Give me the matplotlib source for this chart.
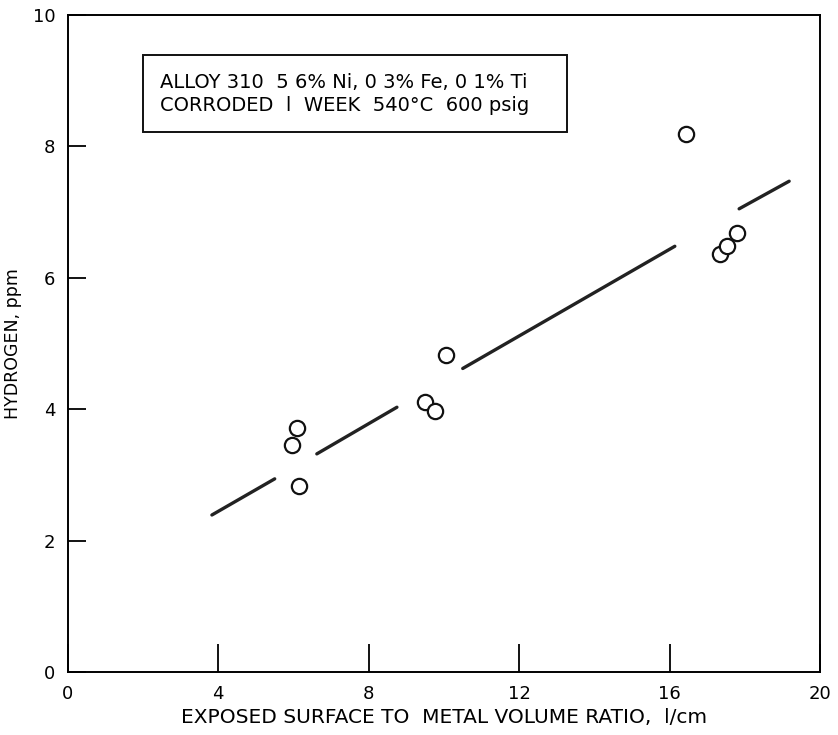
import matplotlib
matplotlib.use("Agg")
import matplotlib.pyplot as plt
from matplotlib.patches import Rectangle

# measured points: surface/volume ratio (1/cm) vs hydrogen (ppm)
ratio = [5.96, 6.10, 6.14, 9.50, 9.76, 10.05, 16.44, 17.34, 17.53, 17.80]
hydrogen = [3.45, 3.71, 2.83, 4.11, 3.97, 4.82, 8.19, 6.36, 6.48, 6.68]

# trend line, drawn broken around the points (start/end of each piece)
line_x = [(3.83, 5.50), (6.62, 8.75), (10.50, 16.14), (17.85, 19.18)]
line_y = [(2.39, 2.94), (3.32, 4.03), (4.62, 6.48), (7.05, 7.47)]

xticks = [0, 4, 8, 12, 16, 20]
yticks = [0, 2, 4, 6, 8, 10]

fig = plt.figure(figsize=(8.38, 7.35), dpi=100)
ax = fig.add_axes([0.081, 0.0857, 0.8975, 0.8939])

for xs, ys in zip(line_x, line_y):
    ax.plot(xs, ys, color="#222222", lw=2.4, solid_capstyle="round")

ax.plot(ratio, hydrogen, "o", ms=11, mfc="white", mec="#111111", mew=1.6,
        linestyle="none")

ax.set_xlim(0, 20)
ax.set_ylim(0, 10)
ax.set_xticks(xticks)
ax.set_yticks(yticks)
ax.tick_params(axis="x", direction="in", length=20, width=1.3, pad=9,
               labelsize=13)
ax.tick_params(axis="y", direction="in", length=13, width=1.3, pad=9,
               labelsize=13)
for s in ax.spines.values():
    s.set_linewidth(1.4)

ax.set_xlabel("EXPOSED SURFACE TO  METAL VOLUME RATIO,  l/cm", fontsize=14.5,
              labelpad=4)
ax.set_ylabel("HYDROGEN, ppm", fontsize=12.5, labelpad=8)

# legend-style note box
ax.add_patch(Rectangle((0.0997, 0.822), 0.5640, 0.117, transform=ax.transAxes,
                       fc="white", ec="#111111", lw=1.4, zorder=3))
ax.text(0.1226, 0.898, "ALLOY 310  5 6% Ni, 0 3% Fe, 0 1% Ti",
        transform=ax.transAxes, fontsize=14, va="center", ha="left", zorder=4)
ax.text(0.1226, 0.863, "CORRODED  l  WEEK  540\u00b0C  600 psig",
        transform=ax.transAxes, fontsize=14, va="center", ha="left", zorder=4)

fig.savefig("out.png", dpi=100)
